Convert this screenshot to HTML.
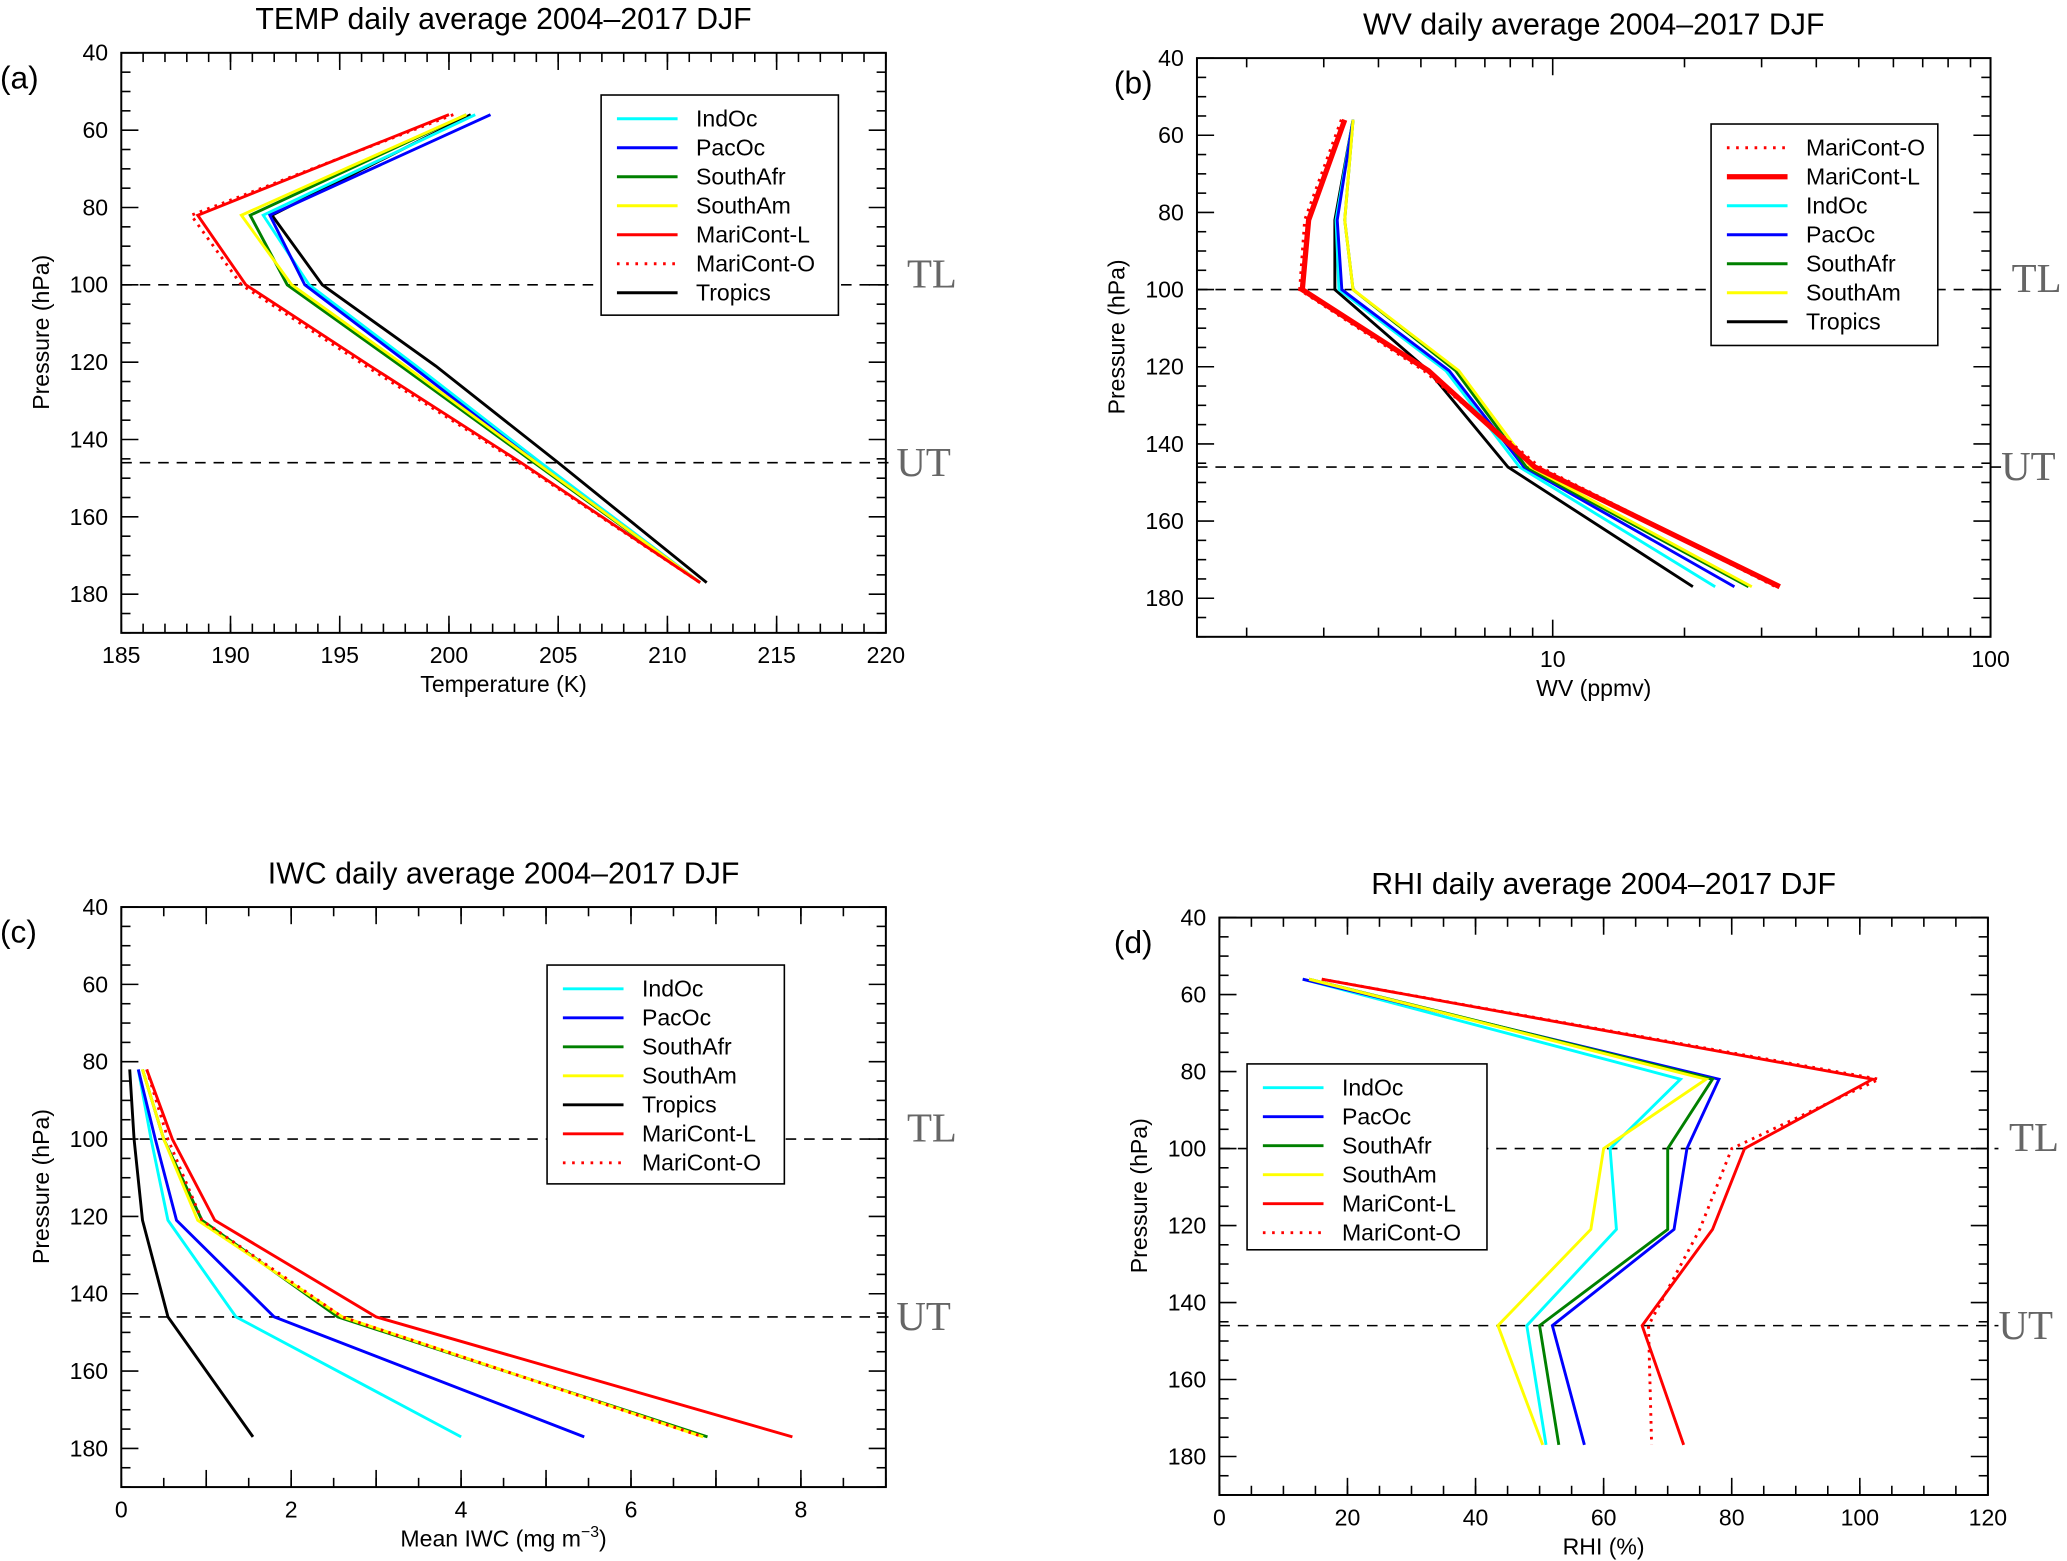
<!DOCTYPE html>
<html><head><meta charset="utf-8"><style>
html,body{margin:0;padding:0;background:#fff}
svg{display:block}
text{font-family:"Liberation Sans",sans-serif;fill:#000}
.serif{font-family:"Liberation Serif",serif;fill:#666}
</style></head><body>
<svg id="fig" xmlns="http://www.w3.org/2000/svg" width="2067" height="1561" viewBox="0 0 1568 1184"></svg>
<script>
const levels = [56, 82, 100, 121, 146, 177];
const regions = ["IndOc","PacOc","SouthAfr","SouthAm","MariCont-L","MariCont-O","Tropics"];
const colors = {"IndOc":"#00ffff","PacOc":"#0000ff","SouthAfr":"#008000","SouthAm":"#ffff00","MariCont-L":"#ff0000","MariCont-O":"#ff0000","Tropics":"#000000"};
// TEMP (K)
const tempIndOc = [201.2, 191.5, 193.6, 198.5, 204.2, 211.5];
const tempPacOc = [201.9, 191.8, 193.4, 198.3, 204.0, 211.5];
const tempSouthAfr = [200.8, 190.9, 192.6, 197.8, 203.9, 211.5];
const tempSouthAm = [200.8, 190.5, 192.8, 198.0, 204.0, 211.5];
const tempMariL = [200.0, 188.5, 190.7, 196.4, 203.3, 211.5];
const tempMariO = [200.2, 188.2, 190.5, 196.2, 203.2, 211.5];
const tempTropics = [201.0, 191.9, 194.2, 199.4, 205.0, 211.8];
// WV (ppmv)
const wvIndOc = [3.5, 3.2, 3.25, 5.7, 8.4, 23.5];
const wvPacOc = [3.5, 3.22, 3.3, 5.8, 8.6, 26];
const wvSouthAfr = [3.5, 3.35, 3.5, 6.0, 8.7, 28];
const wvSouthAm = [3.5, 3.35, 3.5, 6.1, 8.9, 28.5];
const wvMariL = [3.35, 2.77, 2.68, 5.2, 9.1, 33];
const wvMariO = [3.3, 2.72, 2.65, 5.1, 9.3, 32.5];
const wvTropics = [3.5, 3.18, 3.18, 5.2, 7.9, 20.9];
// IWC (mg m-3)
const iwcLevels = [82, 100, 121, 146, 177];
const iwcIndOc = [0.2, 0.35, 0.55, 1.35, 4.0];
const iwcPacOc = [0.2, 0.4, 0.65, 1.8, 5.45];
const iwcSouthAfr = [0.25, 0.5, 0.95, 2.55, 6.9];
const iwcSouthAm = [0.25, 0.5, 0.9, 2.6, 6.85];
const iwcMariL = [0.3, 0.6, 1.1, 3.0, 7.9];
const iwcMariO = [0.3, 0.55, 0.95, 2.6, 6.85];
const iwcTropics = [0.1, 0.15, 0.25, 0.55, 1.55];
// RHI (%)
const rhiIndOc = [13, 72, 61, 62, 48, 51];
const rhiPacOc = [13, 78, 73, 71, 52, 57];
const rhiSouthAfr = [14, 77, 70, 70, 50, 53];
const rhiSouthAm = [14, 76, 60, 58, 43.5, 50.5];
const rhiMariL = [16, 102, 82, 77, 66, 72.5];
const rhiMariO = [16, 103, 80, 75, 67, 67.5];
const yTicks = [40, 60, 80, 100, 120, 140, 160, 180];

const NS = "http://www.w3.org/2000/svg";
const fig = document.getElementById('fig');
function el(tag, attrs, parent, txt){
  const e = document.createElementNS(NS, tag);
  for (const k in attrs) e.setAttribute(k, attrs[k]);
  if (txt !== undefined) e.textContent = txt;
  (parent||fig).appendChild(e);
  return e;
}

function panel(cfg){
  const g = el('g', {});
  
  
  const {x0,x1,y0,y1} = cfg.box;
  const sx = v => cfg.log ? x0 + (Math.log10(v)-Math.log10(cfg.xmin))/(Math.log10(cfg.xmax)-Math.log10(cfg.xmin))*(x1-x0)
                         : x0 + (v-cfg.xmin)/(cfg.xmax-cfg.xmin)*(x1-x0);
  const sy = p => y0 + (p-40)/(190-40)*(y1-y0);
  [100,146].forEach((p,i)=>{
    const l = el('line',{x1:x0,x2:x1+8,y1:sy(p),y2:sy(p),stroke:'#000','stroke-width':1.2,'stroke-dasharray':'8,6'},g);
    
    
    const t = el('text',{x:x1+(i?8:16),y:sy(p)+(i?10:2),'font-size':31,class:'serif'},g,i?'UT':'TL');
    
    
  });
  cfg.series.forEach(s=>{
    const pts = s.vals.map((v,i)=>sx(v).toFixed(1)+','+sy(s.lev[i]).toFixed(1)).join(' ');
    const pl = el('polyline',{points:pts,fill:'none',stroke:colors[s.r],'stroke-width':s.w||2.2,'stroke-dasharray':s.r==='MariCont-O'?'2,4':'none'},g);
    
    
  });
  el('rect',{x:x0,y:y0,width:x1-x0,height:y1-y0,fill:'none',stroke:'#000','stroke-width':1.5},g);
  for (let p=40;p<=190;p+=5){
    const major = p%20===0; const len = major?13:7;
    el('line',{x1:x0,x2:x0+len,y1:sy(p),y2:sy(p),stroke:'#000','stroke-width':1.2},g);
    el('line',{x1:x1,x2:x1-len,y1:sy(p),y2:sy(p),stroke:'#000','stroke-width':1.2},g);
  }
  yTicks.forEach(p=>{
    const t = el('text',{x:x0-10,y:sy(p)+6,'font-size':17.5,'text-anchor':'end'},g,String(p));
    
    
  });
  cfg.xminor.forEach(v=>{
    el('line',{x1:sx(v),x2:sx(v),y1:y1,y2:y1-7,stroke:'#000','stroke-width':1.2},g);
    el('line',{x1:sx(v),x2:sx(v),y1:y0,y2:y0+7,stroke:'#000','stroke-width':1.2},g);
  });
  cfg.xmajor.forEach(v=>{
    el('line',{x1:sx(v),x2:sx(v),y1:y1,y2:y1-13,stroke:'#000','stroke-width':1.2},g);
    el('line',{x1:sx(v),x2:sx(v),y1:y0,y2:y0+13,stroke:'#000','stroke-width':1.2},g);
  });
  cfg.xlabels.forEach(v=>{
    const t = el('text',{x:sx(v),y:y1+23,'font-size':17.5,'text-anchor':'middle'},g,String(v));
    
    
  });
  const xt = el('text',{x:(x0+x1)/2,y:y1+45,'font-size':17.5,'text-anchor':'middle'},g);
  xt.innerHTML = cfg.xtitle;
  
  
  const yt = el('text',{x:0,y:0,'font-size':17.5,'text-anchor':'middle',transform:`translate(${x0-55},${(y0+y1)/2-8}) rotate(-90)`},g,'Pressure (hPa)');
  
  
  const tt = el('text',{x:(x0+x1)/2,y:y0-18,'font-size':23,'text-anchor':'middle'},g,cfg.title);
  
  
  const pl = el('text',{x:cfg.letterX,y:y0+27,'font-size':24},g,cfg.letter);
  
  
  const L = cfg.legend;
  const lg = el('g',{},g);
  
  
  el('rect',{x:L.x,y:L.y,width:L.w,height:L.h,fill:'#fff',stroke:'#000','stroke-width':1.2},lg);
  L.items.forEach((r,i)=>{
    const yy = L.y+18+i*22;
    const ln = el('line',{x1:L.x+12,x2:L.x+58,y1:yy,y2:yy,stroke:colors[r],'stroke-width':(L.thick===r)?4:2.2,'stroke-dasharray':r==='MariCont-O'?'2,5':'none'},lg);
    
    
    const t = el('text',{x:L.x+72,y:yy+6,'font-size':17.5},lg,r);
    
    
  });
}
function range(a,b,s){const r=[];for(let v=a;v<=b+1e-9;v+=s)r.push(+v.toFixed(4));return r;}

panel({name:'panel-temp',box:{x0:92,x1:672,y0:40,y1:480},xmin:185,xmax:220,
  xmajor:range(185,220,5),xminor:range(185,220,1),xlabels:range(185,220,5),
  xtitle:'Temperature (K)',title:'TEMP daily average 2004\u20132017 DJF',letter:'(a)',letterX:0,
  series:[
    {r:'Tropics',vals:tempTropics,lev:levels},
    {r:'IndOc',vals:tempIndOc,lev:levels},{r:'PacOc',vals:tempPacOc,lev:levels},
    {r:'SouthAfr',vals:tempSouthAfr,lev:levels},{r:'SouthAm',vals:tempSouthAm,lev:levels},
    {r:'MariCont-L',vals:tempMariL,lev:levels},{r:'MariCont-O',vals:tempMariO,lev:levels}],
  legend:{x:456,y:72,w:180,h:167,items:['IndOc','PacOc','SouthAfr','SouthAm','MariCont-L','MariCont-O','Tropics']}});

const wvMinor=[];[1,10].forEach(d=>{for(let k=2;k<=9;k++)wvMinor.push(k*d);});
panel({name:'panel-wv',box:{x0:908,x1:1510,y0:44,y1:483},xmin:1.54,xmax:100,log:true,
  xmajor:[10,100],xminor:wvMinor.filter(v=>v>=1.6),xlabels:[10,100],
  xtitle:'WV (ppmv)',title:'WV daily average 2004\u20132017 DJF',letter:'(b)',letterX:845,
  series:[
    {r:'Tropics',vals:wvTropics,lev:levels},
    {r:'IndOc',vals:wvIndOc,lev:levels},{r:'PacOc',vals:wvPacOc,lev:levels},
    {r:'SouthAfr',vals:wvSouthAfr,lev:levels},{r:'SouthAm',vals:wvSouthAm,lev:levels},
    {r:'MariCont-L',vals:wvMariL,lev:levels,w:4},{r:'MariCont-O',vals:wvMariO,lev:levels,w:3}],
  legend:{x:1298,y:94,w:172,h:168,thick:'MariCont-L',items:['MariCont-O','MariCont-L','IndOc','PacOc','SouthAfr','SouthAm','Tropics']}});

panel({name:'panel-iwc',box:{x0:92,x1:672,y0:688,y1:1128},xmin:0,xmax:9,
  xmajor:range(0,9,1),xminor:range(0,9,0.5),xlabels:[0,2,4,6,8],
  xtitle:'Mean IWC (mg m<tspan dy="-7" font-size="12">\u22123</tspan><tspan dy="7">)</tspan>',title:'IWC daily average 2004\u20132017 DJF',letter:'(c)',letterX:0,
  series:[
    {r:'Tropics',vals:iwcTropics,lev:iwcLevels},
    {r:'IndOc',vals:iwcIndOc,lev:iwcLevels},{r:'PacOc',vals:iwcPacOc,lev:iwcLevels},
    {r:'SouthAfr',vals:iwcSouthAfr,lev:iwcLevels},{r:'SouthAm',vals:iwcSouthAm,lev:iwcLevels},
    {r:'MariCont-L',vals:iwcMariL,lev:iwcLevels},{r:'MariCont-O',vals:iwcMariO,lev:iwcLevels}],
  legend:{x:415,y:732,w:180,h:166,items:['IndOc','PacOc','SouthAfr','SouthAm','Tropics','MariCont-L','MariCont-O']}});

panel({name:'panel-rhi',box:{x0:925,x1:1508,y0:696,y1:1134},xmin:0,xmax:120,
  xmajor:range(0,120,20),xminor:range(0,120,5),xlabels:range(0,120,20),
  xtitle:'RHI (%)',title:'RHI daily average 2004\u20132017 DJF',letter:'(d)',letterX:845,
  series:[
    {r:'IndOc',vals:rhiIndOc,lev:levels},{r:'PacOc',vals:rhiPacOc,lev:levels},
    {r:'SouthAfr',vals:rhiSouthAfr,lev:levels},{r:'SouthAm',vals:rhiSouthAm,lev:levels},
    {r:'MariCont-L',vals:rhiMariL,lev:levels},{r:'MariCont-O',vals:rhiMariO,lev:levels}],
  legend:{x:946,y:807,w:182,h:141,items:['IndOc','PacOc','SouthAfr','SouthAm','MariCont-L','MariCont-O']}});
</script>
</body></html>
